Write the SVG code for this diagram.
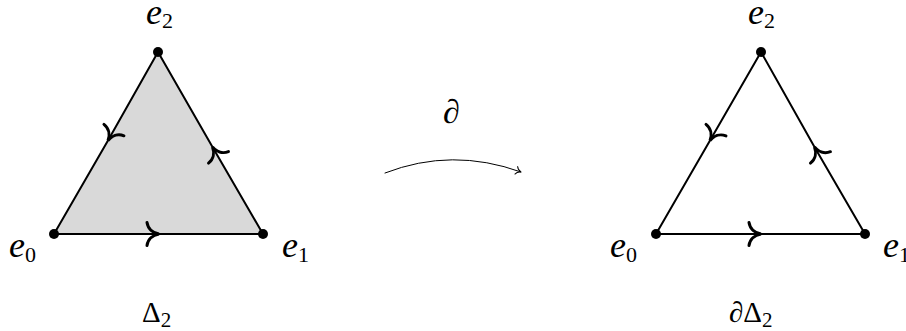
<svg xmlns="http://www.w3.org/2000/svg" width="906" height="331" viewBox="0 0 906 331">
<defs>
  <marker id="ah" viewBox="-14 -14 16 28" markerWidth="16" markerHeight="28" refX="0" refY="0" orient="auto" markerUnits="userSpaceOnUse">
    <path d="M -12,-11.5 C -11,-5 -6,-1 0,0 C -6,1 -11,5 -12,11.5" stroke="#000" stroke-width="3" fill="none" stroke-linecap="round"/>
  </marker>
  <marker id="small" viewBox="-6 -5 8 10" markerWidth="8" markerHeight="10" refX="0" refY="0" orient="auto" markerUnits="userSpaceOnUse">
    <path d="M -5,-4 C -4,-1.5 -2,-0.4 0,0 C -2,0.4 -4,1.5 -5,4" stroke="#000" stroke-width="1" fill="none" stroke-linecap="round"/>
  </marker>
</defs>

<g id="simplex-face">
  <polygon points="54,234 263,234 158,52" fill="#d9d9d9"/>
</g>

<g id="connectors" stroke="#000" stroke-width="2" fill="none" stroke-linecap="round">
  <path d="M 54,234 L 159,234 L 263,234" marker-mid="url(#ah)"/>
  <path d="M 263,234 L 212.5,147 L 158,52" marker-mid="url(#ah)"/>
  <path d="M 158,52 L 108,140.5 L 54,234" marker-mid="url(#ah)"/>
  <path d="M 656,234 L 761,234 L 865,234" marker-mid="url(#ah)"/>
  <path d="M 865,234 L 814.5,147 L 761,52" marker-mid="url(#ah)"/>
  <path d="M 761,52 L 710,140.5 L 656,234" marker-mid="url(#ah)"/>
  <path d="M 385,173 Q 452,147 521,172" stroke-width="1" marker-end="url(#small)"/>
</g>

<g id="L-e0"><circle cx="54" cy="234" r="5" fill="#000"/><text x="9" y="257" font-family="Liberation Serif" font-size="36" font-style="italic">e<tspan font-size="22" font-style="normal" dy="5">0</tspan></text></g>
<g id="L-e1"><circle cx="263" cy="234" r="5" fill="#000"/><text x="282" y="257" font-family="Liberation Serif" font-size="36" font-style="italic">e<tspan font-size="22" font-style="normal" dy="5">1</tspan></text></g>
<g id="L-e2"><circle cx="158" cy="52" r="5" fill="#000"/><text x="146" y="24" font-family="Liberation Serif" font-size="36" font-style="italic">e<tspan font-size="22" font-style="normal" dy="4">2</tspan></text></g>
<g id="L-name"><text x="142" y="322" font-family="Liberation Serif" font-size="29">Δ<tspan font-size="21" dy="5">2</tspan></text></g>

<g id="d-label"><text x="443" y="123" font-family="Liberation Serif" font-size="34" font-style="italic">∂</text></g>

<g id="R-e0"><circle cx="656" cy="234" r="5" fill="#000"/><text x="610" y="257" font-family="Liberation Serif" font-size="36" font-style="italic">e<tspan font-size="22" font-style="normal" dy="5">0</tspan></text></g>
<g id="R-e1"><circle cx="865" cy="234" r="5" fill="#000"/><text x="883" y="257" font-family="Liberation Serif" font-size="36" font-style="italic">e<tspan font-size="22" font-style="normal" dy="5">1</tspan></text></g>
<g id="R-e2"><circle cx="761" cy="52" r="5" fill="#000"/><text x="748" y="24" font-family="Liberation Serif" font-size="36" font-style="italic">e<tspan font-size="22" font-style="normal" dy="4">2</tspan></text></g>
<g id="R-name"><text x="729" y="322" font-family="Liberation Serif" font-size="29"><tspan font-style="italic">∂</tspan>Δ<tspan font-size="21" dy="5">2</tspan></text></g>
</svg>
